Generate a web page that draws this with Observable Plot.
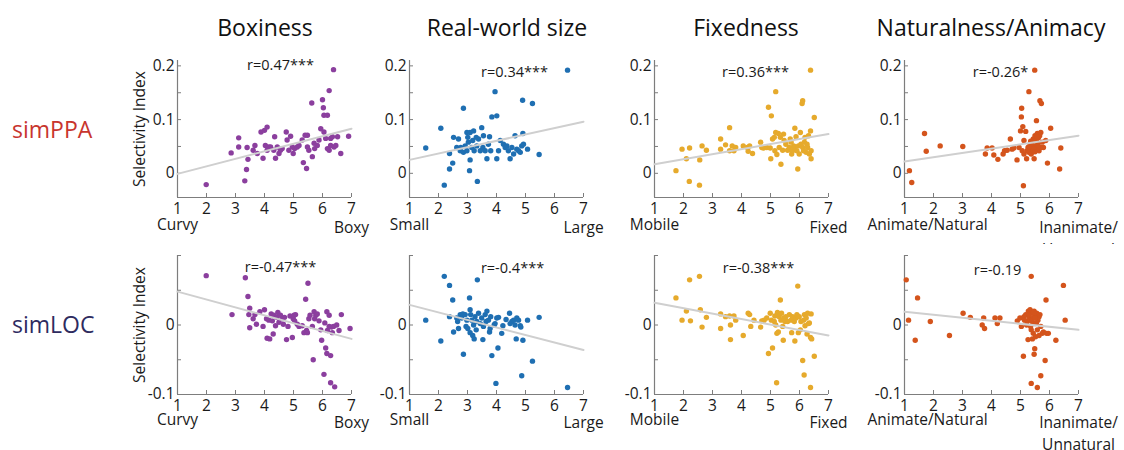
<!DOCTYPE html>
<html><head><meta charset="utf-8">
<script src="https://cdn.jsdelivr.net/npm/d3@7"></script>
<script src="https://cdn.jsdelivr.net/npm/@observablehq/plot@0.6"></script>
<style>
body{margin:0;background:#fff;font-family:"Open Sans",sans-serif;}
#fig{position:relative;width:1124px;height:450px;overflow:hidden;background:#fff}
.title{position:absolute;font-size:23px;color:#111;transform:translateX(-50%);white-space:nowrap;line-height:1}
.rowlab{position:absolute;font-size:23px;line-height:1;white-space:nowrap}
.panel{position:absolute}
</style></head><body><div id="fig"></div><script>
// ---------- data ----------
const dimensions = ["Boxiness", "Real-world size", "Fixedness", "Naturalness/Animacy"];
const regions = ["simPPA", "simLOC"];
const lowLabels = ["Curvy", "Small", "Mobile", "Animate/Natural"];
const highLabels = ["Boxy", "Large", "Fixed", "Inanimate/\nUnnatural"];
const rLabelsPPA = ["r=0.47***", "r=0.34***", "r=0.36***", "r=-0.26*"];
const rLabelsLOC = ["r=-0.47***", "r=-0.4***", "r=-0.38***", "r=-0.19"];
const scaleEnds = [1, 7];
const xTicks = [1, 2, 3, 4, 5, 6, 7];
const yTicksPPA = [0, 0.05, 0.1, 0.15, 0.2];
const yLabelsPPA = [0, 0.1, 0.2];
const yTicksLOC = [-0.1, -0.05, 0, 0.05, 0.1];
const yLabelsLOC = [-0.1, 0];
const dimColors = ["#8b3f9e", "#1f6fb2", "#e6aa2c", "#d4541c"];

// fitted regression line values at rating 1 and rating 7
const fitPPA = [[-0.001, 0.083], [0.025, 0.096], [0.017, 0.073], [0.022, 0.070]];
const fitLOC = [[0.048, -0.020], [0.029, -0.036], [0.032, -0.015], [0.019, -0.007]];

const ppaBoxiness = [[1.99,-0.021],[2.85,0.038],[3.11,0.066],[3.11,0.049],[3.32,-0.014],[3.38,0.007],[3.43,0.026],[3.40,0.048],[3.61,0.043],[3.67,0.052],[3.75,0.037],[3.88,0.077],[4.00,0.080],[4.09,0.086],[3.95,0.028],[4.03,0.052],[4.09,0.043],[4.15,0.049],[4.21,0.049],[4.32,0.043],[4.35,0.068],[4.38,0.028],[4.44,0.049],[4.50,0.037],[4.55,0.043],[4.61,0.046],[4.75,0.077],[4.78,0.062],[4.84,0.043],[4.90,0.069],[4.96,0.049],[4.99,0.037],[5.04,0.046],[5.13,0.049],[5.19,0.052],[5.30,0.062],[5.34,0.020],[5.40,0.071],[5.45,0.009],[5.48,0.071],[5.48,0.049],[5.53,0.043],[5.63,0.131],[5.65,0.031],[5.71,0.056],[5.73,0.046],[5.82,0.052],[5.88,0.062],[5.94,0.083],[6.00,0.137],[6.03,0.122],[6.05,0.108],[6.05,0.077],[6.11,0.065],[6.17,0.108],[6.17,0.046],[6.23,0.043],[6.23,0.154],[6.28,0.065],[6.28,0.052],[6.34,0.068],[6.38,0.193],[6.40,0.049],[6.46,0.052],[6.52,0.068],[6.63,0.037],[6.90,0.069]];
const ppaSize = [[1.56,0.047],[2.08,0.084],[2.20,-0.022],[2.38,0.008],[2.38,0.037],[2.49,0.019],[2.52,0.067],[2.63,0.048],[2.69,0.064],[2.75,0.042],[2.77,0.048],[2.86,0.121],[2.86,0.039],[2.92,0.051],[2.98,0.076],[2.98,0.042],[3.01,0.067],[3.03,0.058],[3.07,0.005],[3.09,0.025],[3.09,0.076],[3.15,0.048],[3.18,0.061],[3.21,0.079],[3.23,0.042],[3.30,0.067],[3.32,0.051],[3.34,-0.015],[3.38,0.064],[3.44,0.042],[3.49,0.085],[3.53,0.048],[3.55,0.070],[3.61,0.042],[3.67,0.027],[3.72,0.054],[3.76,0.068],[3.80,0.042],[3.84,0.105],[3.95,0.152],[4.01,0.107],[4.01,0.027],[4.07,0.042],[4.13,0.061],[4.24,0.054],[4.30,0.048],[4.36,0.051],[4.41,0.042],[4.47,0.027],[4.53,0.048],[4.59,0.036],[4.64,0.070],[4.70,0.045],[4.76,0.042],[4.82,0.039],[4.87,0.051],[4.90,0.136],[4.91,0.074],[4.93,0.054],[5.07,0.045],[5.24,0.130],[5.47,0.035],[6.45,0.192]];
const ppaFixedness = [[1.74,0.005],[1.95,0.045],[2.10,0.027],[2.20,-0.015],[2.21,0.047],[2.55,-0.022],[2.56,0.025],[2.64,0.051],[2.79,0.043],[3.28,0.064],[3.28,0.045],[3.45,0.053],[3.59,0.085],[3.59,0.042],[3.68,0.051],[3.74,0.042],[3.80,0.048],[4.06,0.051],[4.20,0.048],[4.23,0.041],[4.28,0.051],[4.38,0.037],[4.66,0.058],[4.70,0.048],[4.76,0.047],[4.87,0.048],[4.93,0.123],[4.99,0.047],[5.01,0.027],[5.03,0.107],[5.07,0.064],[5.13,0.067],[5.15,0.042],[5.18,0.152],[5.18,0.076],[5.22,0.035],[5.27,0.074],[5.30,0.048],[5.34,0.067],[5.36,0.017],[5.42,0.043],[5.45,0.073],[5.47,0.061],[5.53,0.054],[5.59,0.043],[5.65,0.048],[5.68,0.064],[5.71,0.058],[5.73,0.036],[5.76,0.042],[5.80,0.051],[5.82,0.048],[5.84,0.084],[5.88,0.068],[5.91,0.042],[5.94,0.008],[5.96,0.051],[5.99,0.036],[6.03,0.076],[6.05,0.054],[6.09,0.130],[6.11,0.135],[6.11,0.048],[6.14,0.042],[6.17,0.058],[6.19,0.067],[6.23,0.039],[6.26,0.054],[6.28,0.048],[6.31,0.070],[6.34,0.036],[6.38,0.079],[6.40,0.042],[6.40,0.027],[6.38,0.192],[6.51,0.104]];
const ppaNaturalness = [[1.17,0.005],[1.25,-0.017],[1.69,0.074],[1.75,0.041],[2.23,0.051],[3.01,0.050],[3.79,0.036],[3.85,0.047],[4.02,0.047],[4.08,0.034],[4.22,0.026],[4.40,0.036],[4.45,0.042],[4.54,0.043],[4.65,0.064],[4.71,0.045],[4.77,0.047],[4.88,0.025],[4.95,0.048],[5.00,0.079],[5.03,0.105],[5.04,0.121],[5.06,0.042],[5.08,0.087],[5.10,-0.023],[5.12,0.061],[5.12,0.036],[5.18,0.078],[5.21,0.027],[5.23,0.042],[5.26,0.048],[5.29,0.152],[5.29,0.039],[5.33,0.045],[5.35,0.054],[5.37,0.036],[5.41,0.048],[5.44,0.042],[5.44,0.064],[5.47,0.027],[5.49,0.192],[5.50,0.070],[5.52,0.051],[5.55,0.098],[5.56,0.045],[5.58,0.074],[5.60,0.056],[5.64,0.042],[5.66,0.070],[5.67,0.135],[5.70,0.076],[5.70,0.048],[5.72,0.130],[5.75,0.058],[5.79,0.048],[5.87,0.061],[5.93,0.019],[6.04,0.084],[6.35,0.008],[6.39,0.047],[5.30,0.050],[5.40,0.055],[5.55,0.062],[5.62,0.066],[5.47,0.046],[5.35,0.060],[5.50,0.040],[5.60,0.052],[5.65,0.072],[5.58,0.068]];

const locBoxiness = [[1.99,0.071],[2.88,0.015],[3.34,0.068],[3.43,0.041],[3.46,0.015],[3.49,0.024],[3.49,-0.004],[3.61,0.009],[3.67,0.015],[3.72,0.001],[3.84,0.019],[3.95,-0.002],[4.00,0.022],[4.07,0.009],[4.09,-0.019],[4.15,0.007],[4.18,-0.020],[4.23,0.016],[4.27,0.006],[4.30,-0.013],[4.32,0.014],[4.38,-0.001],[4.42,0.011],[4.46,0.018],[4.50,0.004],[4.55,0.014],[4.61,0.009],[4.65,0.001],[4.69,0.011],[4.76,-0.021],[4.81,-0.002],[4.88,0.013],[4.96,-0.018],[4.99,0.009],[5.02,0.014],[5.04,0.006],[5.07,0.015],[5.13,0.001],[5.19,-0.002],[5.30,-0.001],[5.36,-0.011],[5.42,0.037],[5.45,-0.008],[5.48,-0.011],[5.50,0.060],[5.53,0.009],[5.57,0.014],[5.65,-0.002],[5.68,-0.050],[5.71,0.019],[5.73,0.009],[5.77,0.014],[5.82,0.016],[5.88,0.006],[5.94,-0.007],[5.97,-0.022],[6.05,-0.071],[6.08,0.003],[6.11,-0.033],[6.15,0.019],[6.15,-0.041],[6.17,-0.008],[6.23,0.014],[6.23,-0.002],[6.28,-0.044],[6.28,-0.083],[6.31,-0.003],[6.34,-0.011],[6.38,-0.002],[6.42,-0.089],[6.49,0.000],[6.57,-0.008],[6.65,0.015],[6.95,-0.005]];
const locSize = [[1.56,0.007],[2.08,-0.023],[2.20,0.070],[2.38,0.057],[2.38,0.012],[2.49,0.036],[2.52,-0.010],[2.63,0.010],[2.66,0.005],[2.69,-0.005],[2.75,0.015],[2.80,0.010],[2.84,0.016],[2.86,-0.042],[2.92,0.015],[2.95,-0.002],[2.98,0.007],[3.01,-0.005],[3.07,0.039],[3.09,0.022],[3.09,-0.011],[3.11,0.015],[3.15,0.007],[3.18,-0.015],[3.21,0.000],[3.23,-0.020],[3.26,0.012],[3.30,-0.007],[3.32,0.005],[3.34,0.065],[3.38,0.017],[3.44,0.002],[3.49,0.010],[3.53,-0.021],[3.55,-0.002],[3.61,0.015],[3.64,0.005],[3.67,0.020],[3.72,0.007],[3.76,-0.010],[3.78,-0.005],[3.80,0.012],[3.84,-0.044],[3.92,0.000],[3.95,0.002],[3.98,-0.084],[4.01,0.010],[4.05,-0.033],[4.07,0.011],[4.18,-0.012],[4.22,-0.001],[4.33,0.008],[4.45,0.017],[4.47,0.002],[4.53,0.005],[4.59,0.007],[4.64,0.000],[4.68,-0.020],[4.70,0.010],[4.76,0.007],[4.82,-0.001],[4.84,-0.003],[4.87,-0.073],[4.91,-0.022],[5.07,0.007],[5.24,-0.052],[5.47,0.011],[6.45,-0.090]];
const locFixedness = [[1.74,0.039],[1.95,0.007],[2.10,0.020],[2.21,0.065],[2.24,0.006],[2.55,0.070],[2.58,0.022],[2.64,-0.003],[2.79,0.011],[3.28,0.016],[3.28,-0.005],[3.45,0.012],[3.59,0.013],[3.62,0.000],[3.62,-0.021],[3.74,0.013],[3.80,0.007],[4.06,-0.015],[4.23,0.017],[4.28,0.015],[4.32,-0.002],[4.43,0.007],[4.66,-0.003],[4.70,0.006],[4.78,0.007],[4.87,0.010],[4.93,-0.041],[4.99,0.017],[5.03,0.007],[5.07,-0.033],[5.13,0.005],[5.15,0.013],[5.18,0.000],[5.21,-0.083],[5.22,-0.012],[5.24,0.018],[5.27,-0.010],[5.30,0.012],[5.34,0.036],[5.36,0.007],[5.38,0.017],[5.42,-0.002],[5.44,-0.022],[5.47,0.010],[5.50,0.005],[5.53,0.012],[5.59,0.005],[5.65,0.015],[5.71,0.007],[5.73,-0.011],[5.76,0.012],[5.82,0.005],[5.84,-0.023],[5.88,0.010],[5.91,0.015],[5.94,0.056],[5.96,-0.011],[5.99,0.012],[6.03,-0.007],[6.05,0.005],[6.11,-0.051],[6.14,0.007],[6.16,-0.072],[6.17,0.015],[6.19,-0.001],[6.23,0.010],[6.26,-0.013],[6.28,0.017],[6.31,0.002],[6.34,0.003],[6.38,-0.018],[6.38,-0.090],[6.40,0.016],[6.42,-0.020],[6.51,-0.045]];
const locNaturalness = [[1.06,0.065],[1.14,0.007],[1.37,-0.022],[1.45,0.039],[1.89,0.005],[2.55,-0.015],[3.02,0.017],[3.27,0.011],[3.68,0.000],[3.73,0.010],[3.76,-0.005],[4.12,0.010],[4.20,0.002],[4.29,0.010],[4.89,0.006],[4.98,0.010],[5.03,-0.002],[5.10,-0.045],[5.12,0.012],[5.14,0.007],[5.18,0.015],[5.21,0.000],[5.23,0.005],[5.26,-0.021],[5.27,0.020],[5.29,0.012],[5.33,0.022],[5.35,0.007],[5.37,-0.084],[5.37,0.070],[5.37,-0.007],[5.41,0.017],[5.41,-0.020],[5.44,0.010],[5.44,-0.012],[5.47,-0.042],[5.47,0.020],[5.49,-0.034],[5.50,0.002],[5.52,0.012],[5.52,-0.017],[5.56,0.017],[5.58,-0.090],[5.58,-0.007],[5.60,0.007],[5.64,0.012],[5.64,-0.015],[5.67,0.015],[5.70,-0.002],[5.70,-0.073],[5.75,-0.012],[5.79,-0.010],[5.85,-0.051],[5.88,0.036],[5.90,-0.012],[5.96,-0.012],[6.22,-0.022],[6.48,0.057],[6.54,0.007],[5.30,0.015],[5.40,0.005],[5.45,0.018],[5.50,0.010],[5.35,-0.002],[5.55,0.003]];

// ---------- layout ----------
const fig = document.getElementById("fig");
const W = 174, ML = 50, MR = 46;
const axisX0 = [177, 409, 654, 904];
const titleX = [265, 507, 746, 991];
const axisColor = "#7d7d7d";
const fmtY = d => d === 0 ? "0" : (d < 0 ? "-" : "") + Math.abs(d).toFixed(1);
const fmtX = d => String(d);

const rows = [
  {name: regions[0], color: "#c8352e", labTop: 118, data: [ppaBoxiness, ppaSize, ppaFixedness, ppaNaturalness],
   fits: fitPPA, r: rLabelsPPA, yDomain: [-0.045, 0.21], yTicks: yTicksPPA, yLabels: yLabelsPPA,
   top: 50, mt: 10, ph: 137, mb: 47, overflow: "hidden", labDy: 21, rPos: [[16,5],[18,12],[14,12],[9,12]]},
  {name: regions[1], color: "#2e2b5f", labTop: 313, data: [locBoxiness, locSize, locFixedness, locNaturalness],
   fits: fitLOC, r: rLabelsLOC, yDomain: [-0.1, 0.1], yTicks: yTicksLOC, yLabels: yLabelsLOC,
   top: 245, mt: 10, ph: 139, mb: 56, overflow: "visible", labDy: 19, rPos: [[16,12],[16,13],[17,13],[6,15]]}
];

dimensions.forEach((t, i) => {
  const d = document.createElement("div");
  d.className = "title"; d.textContent = t;
  d.style.left = titleX[i] + "px"; d.style.top = "16px";
  fig.appendChild(d);
});

rows.forEach(row => {
  const lab = document.createElement("div");
  lab.className = "rowlab"; lab.textContent = row.name;
  lab.style.left = "12px"; lab.style.top = row.labTop + "px"; lab.style.color = row.color;
  fig.appendChild(lab);

  row.data.forEach((pts, i) => {
    const fitData = scaleEnds.map((x, k) => ({x, y: row.fits[i][k]}));
    const marks = [
      Plot.ruleX([scaleEnds[0]], {stroke: axisColor, strokeWidth: 1.2}),
      Plot.ruleY([row.yDomain[0]], {stroke: axisColor, strokeWidth: 1.2}),
      Plot.tickY(row.yTicks, {y: d => d, insetRight: W - 4, stroke: axisColor}),
      Plot.tickX(xTicks, {x: d => d, insetTop: row.ph - 4, stroke: axisColor}),
      Plot.axisX({ticks: xTicks, tickSize: 0, tickPadding: 5, fontSize: 15.5, label: null, tickFormat: fmtX}),
      Plot.axisY({ticks: row.yLabels, tickSize: 0, tickPadding: 3, fontSize: 15.5, label: null, tickFormat: fmtY}),
      Plot.dot(pts, {x: d => d[0], y: d => d[1], r: 2.7, fill: dimColors[i], stroke: "none"}),
      Plot.line(fitData, {x: "x", y: "y", stroke: "#cfcfcf", strokeWidth: 2}),
      Plot.text([row.r[i]], {text: d => d, frameAnchor: "top", dx: row.rPos[i][0], dy: row.rPos[i][1], fontSize: 14.5, lineAnchor: "middle", fill: "#1a1a1a"}),
      Plot.text([scaleEnds[0]], {x: d => d, text: () => lowLabels[i], frameAnchor: "bottom", dy: row.labDy, lineAnchor: "top",
        fontSize: 15.5, textAnchor: i === 3 ? "start" : "middle", dx: i === 3 ? -37 : 0, fill: "#1a1a1a"}),
      Plot.text([scaleEnds[1]], {x: d => d, text: () => highLabels[i], frameAnchor: "bottom", dy: row.labDy, lineAnchor: "top",
        fontSize: 15.5, lineHeight: 1.36, fill: "#1a1a1a"})
    ];
    if (i === 0) marks.push(Plot.text(["Selectivity Index"], {text: d => d, frameAnchor: "left", rotate: -90, dx: -37,
      textAnchor: "middle", lineAnchor: "middle", fontSize: 15.5, fill: "#1a1a1a"}));
    const svg = Plot.plot({
      width: ML + W + MR, height: row.mt + row.ph + row.mb,
      marginLeft: ML, marginRight: MR, marginTop: row.mt, marginBottom: row.mb,
      style: {background: "transparent", overflow: row.overflow, fontFamily: "Open Sans", color: "#1a1a1a"},
      x: {domain: [scaleEnds[0], scaleEnds[1]]},
      y: {domain: row.yDomain},
      marks
    });
    svg.classList.add("panel");
    svg.style.left = (axisX0[i] - ML) + "px";
    svg.style.top = row.top + "px";
    svg.style.position = "absolute";
    fig.appendChild(svg);
  });
});
</script></body></html>
